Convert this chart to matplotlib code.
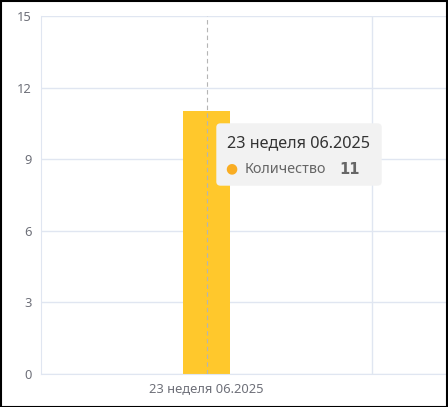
import matplotlib

matplotlib.use("Agg")

import matplotlib.pyplot as plt  # noqa: E402
from matplotlib.patches import FancyBboxPatch, Rectangle  # noqa: E402

# ── Данные ────────────────────────────────────────────────────────────────────
categories = ["23 неделя 06.2025"]
counts = [11]
series_name = "Количество"
y_ticks = [0, 3, 6, 9, 12, 15]

# ── Стиль ─────────────────────────────────────────────────────────────────────
BAR = "#ffc82c"
DOT = "#f9ad23"
GRID = "#e0e6f1"
TICK = "#6e7079"
INK = "#333333"
MUTED = "#666666"

plt.rcParams["font.family"] = ["Noto Sans", "DejaVu Sans"]

fig = plt.figure(figsize=(4.48, 4.07), dpi=100)
ax = fig.add_axes([41 / 448, 33 / 407, 405 / 448, 358 / 407])

x = list(range(len(categories)))
ax.bar(x, counts, width=0.145, color=BAR, zorder=2)

ax.set_xlim(-0.5, -0.5 + 405 / 331)
ax.set_ylim(0, 15)
ax.set_yticks(y_ticks)
ax.set_xticks(x)
ax.set_xticklabels(categories, fontsize=9.3, color=TICK)
ax.tick_params(axis="y", labelsize=9.3, labelcolor=TICK, length=0, pad=7)
ax.tick_params(axis="x", length=0, pad=6)

for sp in ("top", "right"):
    ax.spines[sp].set_visible(False)
ax.spines["left"].set_color(GRID)
ax.spines["bottom"].set_color(GRID)
ax.yaxis.grid(True, color=GRID, linewidth=1, zorder=0)
ax.set_axisbelow(True)

# границы категорий (вертикальная сетка)
for b in [i + 0.5 for i in x]:
    ax.axvline(b, color=GRID, linewidth=1, zorder=0)

# указатель оси (пунктир по центру категории)
ax.axvline(x[0], color="#b5b5b5", linewidth=0.8, linestyle=(0, (4, 3)), zorder=3)

# всплывающая подсказка
tip = FancyBboxPatch((217 / 448, 222 / 407), 164 / 448, 61 / 407,
                     boxstyle="round,pad=0,rounding_size=0.008",
                     transform=fig.transFigure, facecolor="#f2f2f2",
                     edgecolor="#f2f2f2", zorder=10)
fig.patches.append(tip)
fig.text(227 / 448, 264 / 407, categories[0], fontsize=11.7, color=INK,
         va="center", ha="left", zorder=11)
fig.text(231 / 448, 238 / 407, "●", fontsize=10, color=DOT,
         va="center", ha="center", zorder=11)
fig.text(245 / 448, 238 / 407, series_name, fontsize=10.3, color=MUTED,
         va="center", ha="left", zorder=11)
fig.text(339 / 448, 238 / 407, str(counts[0]), fontsize=10.5, color=MUTED,
         fontweight="bold", family="DejaVu Sans", va="center", ha="left",
         zorder=11)

# рамка
fig.patches.append(Rectangle((0.5 / 448, 0.5 / 407), 446.5 / 448, 405.5 / 407,
                             transform=fig.transFigure, fill=False,
                             edgecolor="black", linewidth=1.5, zorder=20))

fig.savefig("out.png", dpi=100)
